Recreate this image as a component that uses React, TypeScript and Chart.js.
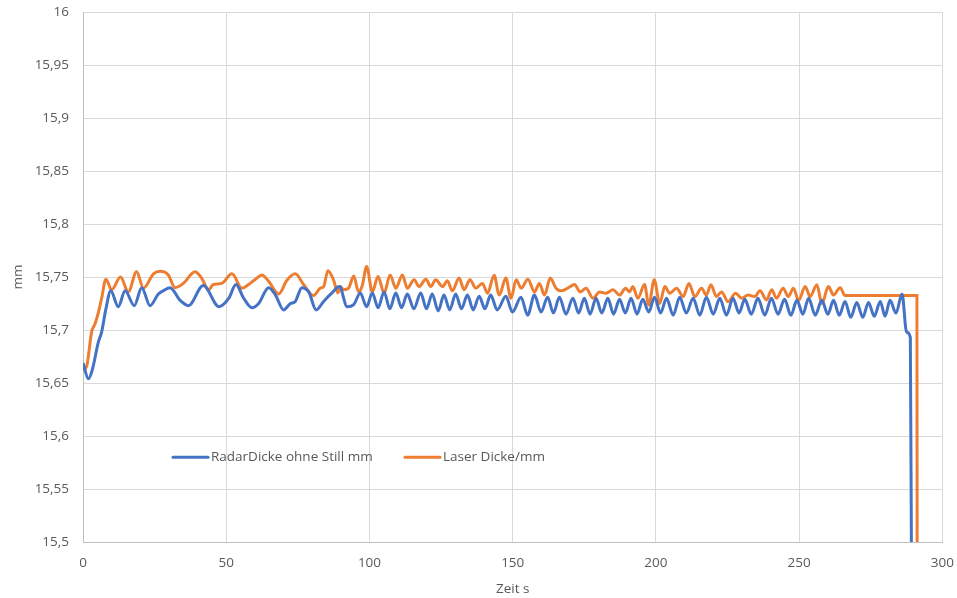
import React, { useEffect, useRef } from "react";
import { Chart, registerables } from "chart.js";

Chart.register(...registerables);

// [Zeit s, mm]
const radarSeries: [number, number][] = [
  [0, 15.669], [1.9, 15.654], [3.2, 15.662], [5.4, 15.689], [6.5, 15.698],
  [8.0, 15.72], [9.7, 15.737], [12.3, 15.722], [14.7, 15.737], [17.9, 15.723],
  [20.5, 15.74], [23.4, 15.723], [26.3, 15.734], [28.0, 15.737], [30.4, 15.74],
  [33.9, 15.728], [36.8, 15.723], [42.0, 15.742], [47.5, 15.722], [50.9, 15.73],
  [53.4, 15.743], [56.1, 15.73], [59.0, 15.721], [61.3, 15.725], [64.8, 15.74],
  [67.2, 15.733], [70.0, 15.719], [72.4, 15.725], [74.1, 15.727], [76.4, 15.74],
  [78.8, 15.736], [81.4, 15.719], [84.0, 15.727], [86.9, 15.735], [89.5, 15.741],
  [92.2, 15.722], [94.5, 15.724], [96.8, 15.735], [99.0, 15.722], [101.0, 15.735],
  [103.0, 15.721], [105.1, 15.736], [107.1, 15.72], [109.2, 15.735], [111.2, 15.721],
  [113.2, 15.734], [115.5, 15.72], [117.9, 15.735], [119.9, 15.72], [121.9, 15.734],
  [124.0, 15.718], [126.0, 15.733], [128.0, 15.719], [130.1, 15.734], [132.1, 15.72],
  [134.2, 15.733], [136.2, 15.719], [138.3, 15.732], [140.3, 15.72], [142.3, 15.733],
  [144.6, 15.719], [147.6, 15.732], [149.9, 15.717], [152.9, 15.731], [155.2, 15.714],
  [157.6, 15.733], [159.9, 15.717], [162.2, 15.731], [164.2, 15.716], [166.3, 15.731],
  [168.6, 15.715], [171.0, 15.73], [173.0, 15.716], [175.0, 15.73], [177.0, 15.715],
  [179.1, 15.73], [181.1, 15.716], [183.2, 15.73], [185.2, 15.715], [187.3, 15.729],
  [189.3, 15.716], [191.3, 15.73], [193.4, 15.715], [195.4, 15.729], [197.5, 15.717],
  [199.5, 15.731], [201.6, 15.716], [203.7, 15.73], [206.0, 15.714], [208.3, 15.731],
  [210.6, 15.716], [213.0, 15.73], [215.3, 15.714], [217.6, 15.731], [220.0, 15.715],
  [222.3, 15.73], [224.6, 15.714], [226.9, 15.73], [229.0, 15.716], [231.0, 15.729],
  [233.3, 15.715], [235.6, 15.73], [238.0, 15.714], [240.3, 15.73], [242.6, 15.715],
  [244.9, 15.729], [247.1, 15.714], [249.2, 15.728], [251.3, 15.715], [253.3, 15.73],
  [255.6, 15.714], [257.9, 15.728], [260.0, 15.715], [262.0, 15.728], [264.0, 15.714],
  [266.0, 15.727], [268.0, 15.712], [270.1, 15.726], [272.2, 15.712], [274.2, 15.726],
  [276.2, 15.713], [278.3, 15.727], [280.0, 15.713], [281.7, 15.728], [283.8, 15.716],
  [285.9, 15.734], [287.5, 15.698], [288.8, 15.693], [289.3, 15.4],
];

const laserSeries: [number, number][] = [
  [0, 15.662], [1.3, 15.666], [3.0, 15.698], [4.2, 15.706], [5.4, 15.717],
  [6.5, 15.73], [8.0, 15.748], [10.0, 15.738], [13.1, 15.75], [15.8, 15.736],
  [18.7, 15.755], [21.1, 15.7395], [24.6, 15.753], [26.9, 15.7555], [29.8, 15.752],
  [32.1, 15.74], [35.0, 15.744], [39.1, 15.755], [41.4, 15.749], [43.8, 15.738],
  [45.5, 15.743], [48.4, 15.744], [52.0, 15.753], [55.5, 15.7395], [57.8, 15.743],
  [60.2, 15.748], [62.5, 15.752], [64.8, 15.746], [68.3, 15.734], [71.2, 15.747],
  [74.1, 15.753], [77.0, 15.743], [80.5, 15.7325], [82.8, 15.7395], [84.0, 15.741],
  [85.5, 15.756], [87.5, 15.747], [89.0, 15.735], [89.8, 15.741], [91.0, 15.738],
  [92.7, 15.7395], [94.5, 15.751], [96.2, 15.736], [97.5, 15.742], [99.0, 15.76],
  [101.0, 15.736], [103.0, 15.7506], [105.1, 15.7347], [107.2, 15.752], [109.2, 15.7395],
  [111.5, 15.752], [113.2, 15.7395], [115.6, 15.7475], [117.3, 15.741], [119.7, 15.748],
  [121.4, 15.741], [123.1, 15.7475], [125.5, 15.741], [127.2, 15.7465], [128.9, 15.737],
  [131.3, 15.749], [133.0, 15.738], [135.1, 15.7475], [137.1, 15.7395], [139.4, 15.744],
  [141.2, 15.7347], [143.5, 15.7516], [145.3, 15.733], [147.6, 15.749], [149.4, 15.73],
  [151.2, 15.7475], [153.0, 15.7395], [155.3, 15.748], [157.6, 15.736], [159.3, 15.744],
  [161.1, 15.733], [163.1, 15.749], [165.1, 15.7395], [166.9, 15.737], [169.2, 15.7395],
  [171.6, 15.743], [173.5, 15.736], [175.6, 15.7395], [178.0, 15.73], [180.3, 15.736],
  [182.6, 15.7347], [185.0, 15.738], [187.3, 15.733], [189.4, 15.7395], [190.8, 15.736],
  [191.9, 15.741], [193.7, 15.73], [196.0, 15.743], [197.5, 15.7236], [199.4, 15.7475],
  [201.3, 15.725], [203.1, 15.741], [204.8, 15.7347], [207.2, 15.7395], [209.5, 15.7316],
  [211.5, 15.744], [213.6, 15.7316], [215.9, 15.7395], [217.6, 15.733], [219.2, 15.7427],
  [221.1, 15.7316], [222.9, 15.736], [225.2, 15.7268], [227.8, 15.7347], [229.9, 15.73],
  [232.2, 15.733], [234.5, 15.7316], [236.3, 15.737], [238.6, 15.7284], [240.4, 15.738],
  [242.1, 15.73], [244.4, 15.7395], [246.2, 15.7316], [248.0, 15.7395], [249.8, 15.728],
  [252.1, 15.741], [253.8, 15.7316], [256.2, 15.7427], [257.9, 15.725], [260.2, 15.741],
  [262.0, 15.733], [264.3, 15.74], [266.0, 15.7325], [291.1, 15.7325], [291.2, 15.4],
];

const seriesLabels = ["RadarDicke ohne Still mm", "Laser Dicke/mm"];
const seriesColors = ["#4472C4", "#ED7D31"];
const xMin = 0;
const xMax = 300;
const xStep = 50;
const yMin = 15.5;
const yMax = 16;
const yStep = 0.05;
const xTitle = "Zeit s";
const yTitle = "mm";

const FONT = "'Open Sans', 'Liberation Sans', sans-serif";
const TEXT_COLOR = "#595959";
const FONT_SIZE = 13.5;

const insideLegend = {
  id: "insideLegend",
  afterDatasetsDraw(chart: any) {
    const { ctx, chartArea } = chart;
    const y = chartArea.top + (chartArea.bottom - chartArea.top) * 0.84;
    const starts = [chartArea.left + 90, chartArea.left + 322];
    ctx.save();
    ctx.font = `${FONT_SIZE}px ${FONT}`;
    ctx.textBaseline = "middle";
    ctx.textAlign = "left";
    chart.data.datasets.forEach((ds: any, i: number) => {
      const x0 = starts[i];
      ctx.strokeStyle = ds.borderColor;
      ctx.lineWidth = 3;
      ctx.lineCap = "round";
      ctx.beginPath();
      ctx.moveTo(x0, y);
      ctx.lineTo(x0 + 35, y);
      ctx.stroke();
      ctx.fillStyle = TEXT_COLOR;
      ctx.fillText(ds.label, x0 + 38, y);
    });
    ctx.restore();
  },
};

const CANVAS_W = 967;
const CANVAS_H = 608;

export default function App() {
  const canvasRef = useRef<HTMLCanvasElement | null>(null);

  useEffect(() => {
    if (!canvasRef.current) return;
    const fmt = (v: number) =>
      parseFloat(Number(v).toFixed(2)).toString().replace(".", ",");
    const chart = new Chart(canvasRef.current, {
      type: "line",
      data: {
        datasets: [radarSeries, laserSeries].map((s, i) => ({
          label: seriesLabels[i],
          data: s.map(([x, y]) => ({ x, y })),
          borderColor: seriesColors[i],
          backgroundColor: seriesColors[i],
          borderWidth: 3,
          pointRadius: 0,
          pointHoverRadius: 0,
          cubicInterpolationMode: "monotone" as const,
          fill: false,
        })),
      },
      options: {
        animation: false,
        responsive: false,
        devicePixelRatio: 1,
        layout: { padding: 0 },
        plugins: {
          legend: { display: false },
          tooltip: { enabled: false },
        },
        scales: {
          x: {
            type: "linear",
            min: xMin,
            max: xMax,
            ticks: {
              stepSize: xStep,
              color: TEXT_COLOR,
              font: { family: FONT, size: FONT_SIZE },
              padding: 13,
              maxRotation: 0,
            },
            grid: { color: "#d9d9d9", drawTicks: false },
            border: { color: "#bfbfbf", width: 1 },
            title: {
              display: true,
              text: xTitle,
              color: TEXT_COLOR,
              font: { family: FONT, size: FONT_SIZE },
              padding: { top: 0, bottom: 1 },
            },
            afterFit: (scale: any) => {
              scale.height = 56;
            },
          },
          y: {
            type: "linear",
            min: yMin,
            max: yMax,
            ticks: {
              stepSize: yStep,
              color: TEXT_COLOR,
              font: { family: FONT, size: FONT_SIZE },
              padding: 14,
              callback: (v: any) => fmt(v),
            },
            grid: { color: "#d9d9d9", drawTicks: false },
            border: { color: "#bfbfbf", width: 1 },
            title: {
              display: true,
              text: yTitle,
              color: TEXT_COLOR,
              font: { family: FONT, size: FONT_SIZE },
              padding: { top: 10, bottom: 0 },
            },
            afterFit: (scale: any) => {
              scale.width = 83;
            },
          },
        },
      },
      plugins: [insideLegend],
    });
    return () => chart.destroy();
  }, []);

  return (
    <div style={{ position: "absolute", left: 0, top: 0, width: 957, height: 598, overflow: "hidden", background: "#fff" }}>
      <canvas
        ref={canvasRef}
        width={CANVAS_W}
        height={CANVAS_H}
        style={{ position: "absolute", left: 0, top: -10, width: CANVAS_W, height: CANVAS_H }}
      />
    </div>
  );
}
